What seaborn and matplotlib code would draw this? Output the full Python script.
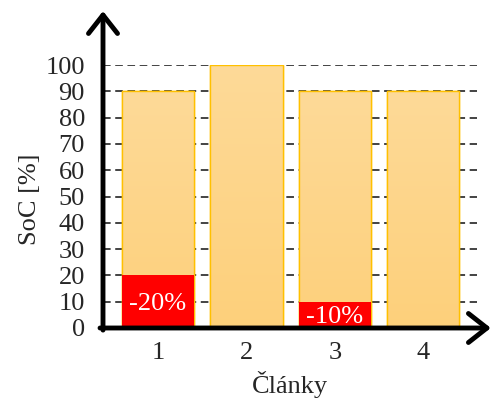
import numpy as np
import pandas as pd
import matplotlib
matplotlib.use("Agg")
import matplotlib.pyplot as plt
from matplotlib.colors import LinearSegmentedColormap
import seaborn as sns

# Data
cells = ["1", "2", "3", "4"]
soc = [90, 100, 90, 90]
loss = [20, 0, 10, 0]
loss_labels = ["-20%", "", "-10%", ""]
yticks = [0, 10, 20, 30, 40, 50, 60, 70, 80, 90, 100]

sns.set_style("white")
plt.rcParams["font.family"] = ["Liberation Serif", "DejaVu Serif"]
FS = 19
plt.rcParams["font.size"] = FS

df = pd.DataFrame({"cell": cells, "soc": soc, "loss": loss})

fig = plt.figure(figsize=(4.91, 3.99), dpi=100)
ax = fig.add_axes([103 / 491, 1 - 328 / 399, (477 - 103) / 491, (328 - 65) / 399])

bar_fill = "#FDD58C"
edge = "#FFC000"
sns.barplot(data=df, x="cell", y="soc", color=bar_fill, width=0.82,
            edgecolor=edge, linewidth=1.0, saturation=1, ax=ax, zorder=2)

# vertical gradient inside each bar
grad = LinearSegmentedColormap.from_list("g", ["#FDD07B", "#FEDA98"])
ax.set_ylim(0, 100)
ax.set_xlim(-0.623, 3.61)
for p in list(ax.patches):
    x0, y0 = p.get_x(), p.get_y()
    w, h = p.get_width(), p.get_height()
    img = ax.imshow(np.linspace(0, 1, 256).reshape(-1, 1), cmap=grad,
                    extent=[x0, x0 + w, y0, y0 + h], origin="lower",
                    aspect="auto", zorder=2.1)
    img.set_clip_path(p)
    outline = plt.Rectangle((x0, y0), w, h, fill=False, edgecolor=edge,
                            linewidth=1.0, zorder=2.3)
    ax.add_patch(outline)

# red segments showing lost capacity
sns.barplot(data=df, x="cell", y="loss", color="#FF0000", width=0.82,
            saturation=1, linewidth=0, ax=ax, zorder=3)
for i, (v, lab) in enumerate(zip(loss, loss_labels)):
    if v > 0:
        ax.text(i, v / 2 - 1.0, lab, color="white", ha="center",
                va="center", fontsize=FS, zorder=4)

ax.set_xlim(-0.623, 3.61)
ax.set_ylim(0, 100)
ax.set_yticks(yticks)
ax.set_yticklabels([str(t) for t in yticks])
ax.yaxis.grid(True, color="#111111", linestyle=(0, (5, 3)), linewidth=1.1)
ax.set_axisbelow(True)
ax.tick_params(axis="both", length=0, labelsize=FS)
ax.tick_params(axis="y", pad=13)
ax.tick_params(axis="x", pad=10)
for s in ax.spines.values():
    s.set_visible(False)

ax.set_xlabel("Články", fontsize=FS)
ax.set_ylabel("SoC [%]", fontsize=FS)
ax.xaxis.set_label_coords(0.5, -0.163)
ax.yaxis.set_label_coords(-0.166, 0.49)

# axes drawn as arrows
style = "->,head_length=0.7,head_width=0.55"
ax.annotate("", xy=(0, 1.205), xytext=(0, -0.008), xycoords="axes fraction",
            arrowprops=dict(arrowstyle=style, lw=3.5, color="black",
                            shrinkA=0, shrinkB=0),
            annotation_clip=False)
ax.annotate("", xy=(1.037, 0), xytext=(-0.008, 0), xycoords="axes fraction",
            arrowprops=dict(arrowstyle=style, lw=3.5, color="black",
                            shrinkA=0, shrinkB=0),
            annotation_clip=False)

fig.savefig("out.png", dpi=100)
